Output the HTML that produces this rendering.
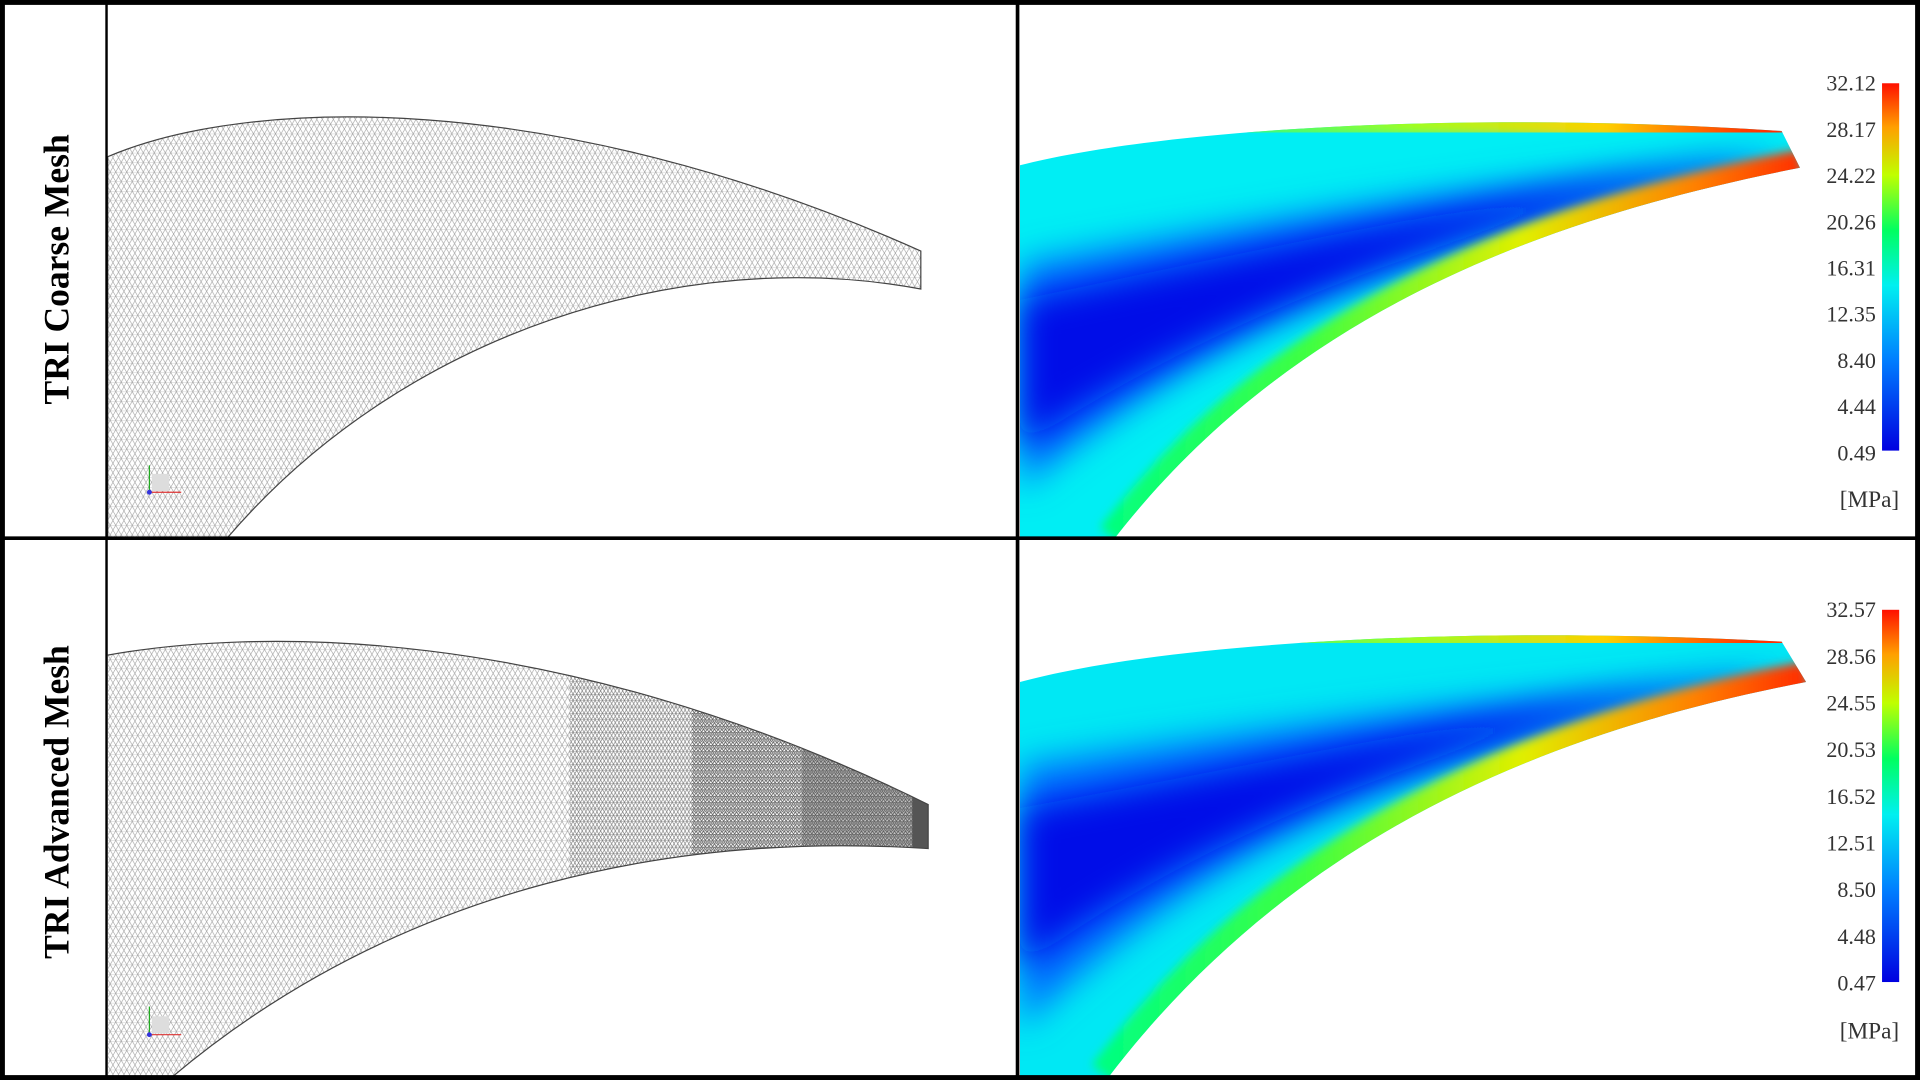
<!DOCTYPE html>
<html><head><meta charset="utf-8"><style>
html,body{margin:0;padding:0;background:#fff;width:1920px;height:1080px;overflow:hidden}
svg{display:block}
text{font-family:"Liberation Serif",serif}
</style></head><body>
<svg width="1920" height="1080" viewBox="0 0 1568 882" preserveAspectRatio="none" xmlns="http://www.w3.org/2000/svg">
<defs>
<pattern id="mesh1" width="9" height="7.8" patternUnits="userSpaceOnUse"><path d="M0,0H9M0,7.8L4.5,0L9,7.8M0,0L4.5,7.8L9,0" stroke="#999" stroke-width="0.45" fill="none"/></pattern>
<pattern id="mesh2" width="6" height="5.2" patternUnits="userSpaceOnUse"><path d="M0,0H6M0,5.2L3,0L6,5.2M0,0L3,5.2L6,0" stroke="#777" stroke-width="0.5" fill="none"/></pattern>
<pattern id="mesh3" width="3" height="2.6" patternUnits="userSpaceOnUse"><path d="M0,0H3M0,2.6L1.5,0L3,2.6" stroke="#555" stroke-width="0.45" fill="none"/></pattern>
<linearGradient id="cbar" x1="0" y1="1" x2="0" y2="0"><stop offset="0" stop-color="#0000e0"/><stop offset="0.25" stop-color="#0080ff"/><stop offset="0.45" stop-color="#00f0f0"/><stop offset="0.6" stop-color="#00ff60"/><stop offset="0.75" stop-color="#c0ff00"/><stop offset="0.88" stop-color="#ffa000"/><stop offset="1" stop-color="#ff1000"/></linearGradient>
<linearGradient id="edgeG" x1="833" y1="0" x2="1470" y2="0" gradientUnits="userSpaceOnUse"><stop offset="0" stop-color="#00ff80" stop-opacity="0"/><stop offset="0.25" stop-color="#40ff60" stop-opacity="0.8"/><stop offset="0.5" stop-color="#a0ff20"/><stop offset="0.75" stop-color="#ffd000"/><stop offset="0.92" stop-color="#ff4000"/><stop offset="1" stop-color="#ff2000"/></linearGradient>
<linearGradient id="edgeB" x1="900" y1="0" x2="1470" y2="0" gradientUnits="userSpaceOnUse"><stop offset="0" stop-color="#00ff80"/><stop offset="0.3" stop-color="#40ff40"/><stop offset="0.6" stop-color="#e0f000"/><stop offset="0.85" stop-color="#ff8000"/><stop offset="1" stop-color="#ff3000"/></linearGradient>
<filter id="blur" x="-20%" y="-50%" width="140%" height="200%"><feGaussianBlur stdDeviation="14"/></filter>
<filter id="blur2"><feGaussianBlur stdDeviation="4"/></filter>
<clipPath id="c1"><path d="M833,135 C950,105 1200,90 1455,107 L1470,137 C1250,180 1050,260 910,440 L833,440 Z"/></clipPath>
<clipPath id="c2"><path d="M833,557 C950,525 1200,510 1455,524 L1475,557 C1250,600 1050,690 905,880 L833,880 Z"/></clipPath>
<clipPath id="m2"><path d="M88,535 C200,515 450,505 758,657 L758,693 C560,680 330,720 140,880 L88,880 Z"/></clipPath>
</defs>
<rect width="1568" height="882" fill="#fff"/>
<g>
<path d="M88,128 C200,80 450,70 752,205 L752,236 C560,200 330,270 185,440 L88,440 Z" fill="url(#mesh1)" stroke="#444" stroke-width="1"/>
</g>
<g clip-path="url(#m2)">
<rect x="88" y="500" width="680" height="382" fill="url(#mesh1)"/>
<rect x="465" y="500" width="300" height="382" fill="#fff"/>
<rect x="465" y="500" width="300" height="382" fill="url(#mesh2)"/>
<rect x="565" y="500" width="200" height="382" fill="url(#mesh3)"/>
<rect x="655" y="500" width="110" height="382" fill="#555" opacity="0.35"/>
<rect x="745" y="500" width="20" height="382" fill="#555"/>
</g>
<path d="M88,535 C200,515 450,505 758,657 L758,693 C560,680 330,720 140,880" fill="none" stroke="#444" stroke-width="1"/>
<g><rect x="124" y="387" width="14" height="14" fill="#ddd"/><line x1="122" y1="402" x2="122" y2="380" stroke="#2a2"/><line x1="122" y1="402" x2="148" y2="402" stroke="#d33"/><circle cx="122" cy="402" r="2" fill="#33d"/></g>
<g><rect x="124" y="830" width="14" height="14" fill="#ddd"/><line x1="122" y1="845" x2="122" y2="822" stroke="#2a2"/><line x1="122" y1="845" x2="148" y2="845" stroke="#d33"/><circle cx="122" cy="845" r="2" fill="#33d"/></g>
<g clip-path="url(#c1)">
<rect x="830" y="80" width="660" height="370" fill="#00eef4"/>
<path d="M833,215 C1000,185 1200,150 1450,128 L1450,140 C1200,175 1000,260 833,400 Z" fill="#0070ff" filter="url(#blur)"/>
<path d="M833,245 C1000,210 1200,165 1420,136 L1420,142 C1200,180 1000,255 833,365 Z" fill="#0010e8" filter="url(#blur)"/>
<path d="M940,104 C1150,92 1300,98 1458,107" stroke="url(#edgeG)" stroke-width="26" fill="none" filter="url(#blur2)"/>
<path d="M1472,137 C1250,180 1050,260 910,440" stroke="url(#edgeB)" stroke-width="30" fill="none" filter="url(#blur2)"/>
</g>
<g clip-path="url(#c2)">
<rect x="830" y="500" width="660" height="382" fill="#00e8f4"/>
<path d="M833,625 C1000,600 1200,570 1460,553 L1460,560 C1200,590 1000,680 833,840 Z" fill="#0070ff" filter="url(#blur)"/>
<path d="M833,660 C1000,630 1200,585 1430,556 L1430,561 C1200,595 1000,670 833,790 Z" fill="#0010e8" filter="url(#blur)"/>
<path d="M1000,522 C1200,510 1350,520 1460,524" stroke="url(#edgeG)" stroke-width="26" fill="none" filter="url(#blur2)"/>
<path d="M1477,557 C1250,600 1050,690 905,880" stroke="url(#edgeB)" stroke-width="34" fill="none" filter="url(#blur2)"/>
</g>
<rect x="1537" y="68" width="14" height="300" fill="url(#cbar)"/>
<rect x="1537" y="498" width="14" height="304" fill="url(#cbar)"/>
<g id="ticksTop"></g>
<g id="ticksBot"></g>
<text x="1551" y="414" font-size="19" text-anchor="end" fill="#333">[MPa]</text>
<text x="1551" y="848" font-size="19" text-anchor="end" fill="#333">[MPa]</text>
<text transform="translate(56,220) rotate(-90)" font-size="29" font-weight="bold" text-anchor="middle" fill="#000">TRI Coarse Mesh</text>
<text transform="translate(56,655) rotate(-90)" font-size="29" font-weight="bold" text-anchor="middle" fill="#000">TRI Advanced Mesh</text>
<g stroke="#000" fill="none">
<rect x="2" y="2" width="1564" height="878" stroke-width="4"/>
<line x1="87" y1="2" x2="87" y2="880" stroke-width="2"/>
<line x1="831" y1="2" x2="831" y2="880" stroke-width="3"/>
<line x1="2" y1="439.5" x2="1566" y2="439.5" stroke-width="3"/>
</g>
</svg>
<script>
const topTicks = ["32.12","28.17","24.22","20.26","16.31","12.35","8.40","4.44","0.49"];
const botTicks = ["32.57","28.56","24.55","20.53","16.52","12.51","8.50","4.48","0.47"];
function drawTicks(id, labels, y0, y1){
  const g = document.getElementById(id);
  labels.forEach((t,i)=>{
    const y = y0 + (y1-y0)*i/(labels.length-1);
    const el = document.createElementNS("http://www.w3.org/2000/svg","text");
    
    
    el.setAttribute("x", 1532); el.setAttribute("y", y+6);
    el.setAttribute("font-size", "18"); el.setAttribute("text-anchor","end"); el.setAttribute("fill","#333");
    el.textContent = t; g.appendChild(el);
  });
}
drawTicks("ticksTop", topTicks, 68, 370);
drawTicks("ticksBot", botTicks, 498, 803);
</script>
</body></html>
